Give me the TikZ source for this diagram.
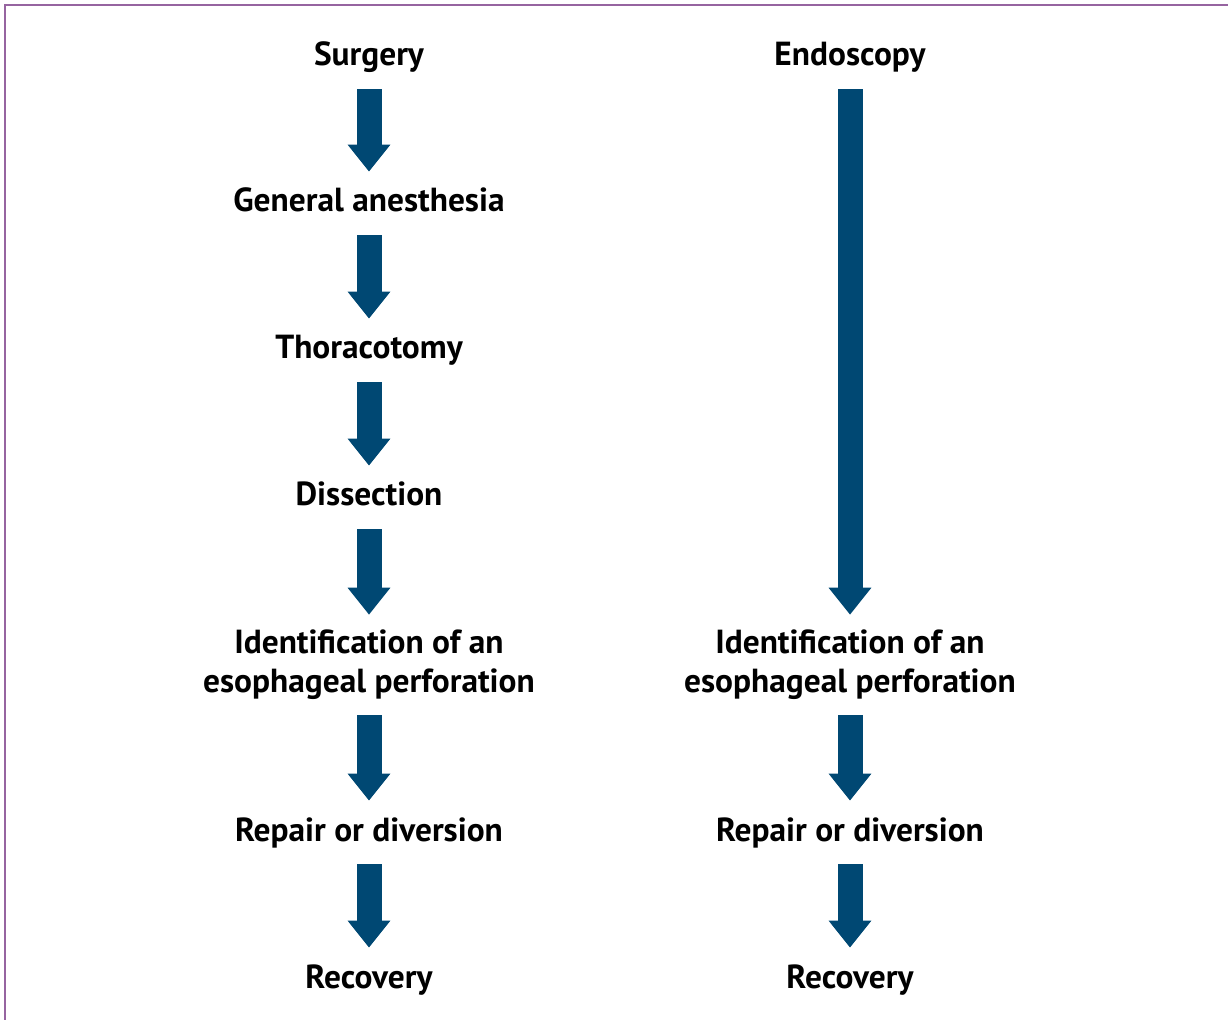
\documentclass[tikz,border=0pt]{standalone}
\usepackage{fontspec}
\setmainfont{PT Sans}
\usepackage{xcolor}
\usetikzlibrary{arrows.meta}
\definecolor{flowblue}{RGB}{0,72,115}
\definecolor{framepurple}{RGB}{150,100,160}

\begin{document}
\begin{tikzpicture}[x=0.02cm,y=-0.02cm,
    lbl/.style={inner sep=0pt,anchor=base,text height=0.48cm,text depth=0pt,
      font=\fontsize{19pt}{22.2pt}\selectfont\bfseries},
    lbltwo/.style={inner sep=0pt,align=center,
      font=\fontsize{19pt}{22.2pt}\selectfont\bfseries},
    flow/.style={flowblue,line width=0.5cm,
      -{Triangle[width=0.82cm,length=0.54cm]},
      shorten <=0.46cm,shorten >=0.32cm}]
    \useasboundingbox (0,0) rectangle (1228,1020);
    \draw [framepurple,line width=1.2pt] (1228,5) -- (5,5) -- (5,1020);
    % surgery column
    \node [lbl] (surg) at (369,66) {Surgery};
    \node [lbl] (anest) at (369,212) {General anesthesia};
    \node [lbl] (thor) at (369,359) {Thoracotomy};
    \node [lbl] (diss) at (369,506) {Dissection};
    \node [lbltwo] (identL) at (369,665) {Identification of an\\esophageal perforation};
    \node [lbl] (repL) at (369,841) {Repair or diversion};
    \node [lbl] (recL) at (369,988) {Recovery};
    % endoscopy column
    \node [lbl] (endo) at (850,66) {Endoscopy};
    \node [lbltwo] (identR) at (850,665) {Identification of an\\esophageal perforation};
    \node [lbl] (repR) at (850,841) {Repair or diversion};
    \node [lbl] (recR) at (850,988) {Recovery};
    % arrows
    \draw [flow] (surg.south) -- (anest.north);
    \draw [flow] (anest.south) -- (thor.north);
    \draw [flow] (thor.south) -- (diss.north);
    \draw [flow,shorten >=0.3cm] (diss.south) -- (identL.north);
    \draw [flow,shorten <=0.3cm] (identL.south) -- (repL.north);
    \draw [flow] (repL.south) -- (recL.north);
    \draw [flow,shorten >=0.3cm] (endo.south) -- (identR.north);
    \draw [flow,shorten <=0.3cm] (identR.south) -- (repR.north);
    \draw [flow] (repR.south) -- (recR.north);
\end{tikzpicture}
\end{document}
